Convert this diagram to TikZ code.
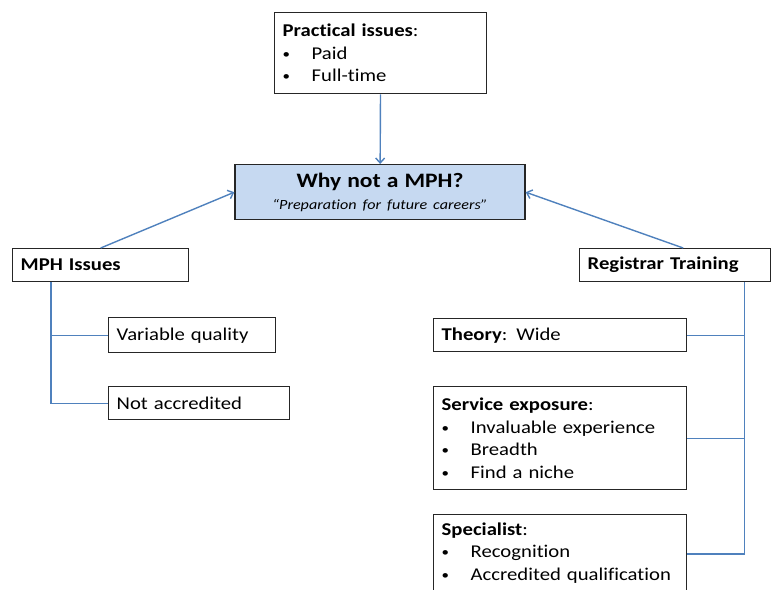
\documentclass[tikz,border=0pt]{standalone}
\usepackage{fontspec}
\setmainfont[FakeStretch=1.15,Ligatures=NoCommon]{Carlito}
\usepackage{tikz}
\usetikzlibrary{positioning,arrows.meta}
\definecolor{linkblue}{RGB}{79,129,189}
\definecolor{boxblue}{RGB}{198,217,241}
\tikzset{
    >={Straight Barb[length=5pt,width=9pt]},
    box/.style={
        rectangle,
        draw=black!85, line width=1.4pt,
        fill=white,
        inner xsep=8pt, inner ysep=3pt,
        align=left,
        anchor=north west,
        font={\fontsize{18}{22.5}\selectfont}
    },
    link/.style={draw=linkblue, line width=1.4pt},
}
\newcommand{\bitem}[1]{\makebox[29pt][l]{\raisebox{1pt}{\fontsize{13}{13}\selectfont\textbullet}}\mbox{#1}}

\begin{document}
\begin{tikzpicture}[x=1pt,y=-1pt]
    \useasboundingbox (0,0) rectangle (771,589);

    % centre and the three groups
    \node(why)[box, anchor=north, fill=boxblue, align=center, text width=274pt, minimum height=55pt]
        at (380,164) {{\fontsize{20.5}{22}\selectfont\bfseries Why not a MPH?}\\[-1pt]
        {\fontsize{14}{15}\selectfont\itshape ``Preparation for future careers''}};
    \node(practical)[box, text width=196pt, minimum height=81pt] at (274,12)
        {\textbf{Practical issues}:\\ \bitem{Paid}\\ \bitem{Full-time}};
    \node(mph)[box, text width=160pt, minimum height=33pt] at (12,248) {\textbf{MPH Issues}};
    \node(registrar)[box, text width=175pt, minimum height=33pt] at (579,248) {\textbf{Registrar Training}};

    % left branch
    \node(varq)[box, text width=151pt, minimum height=35pt] at (108,317) {Variable quality};
    \node(notacc)[box, text width=165pt, minimum height=33pt] at (108,386) {Not accredited};

    % right branch
    \node(theory)[box, text width=237pt, minimum height=33pt] at (433,318) {\textbf{Theory}: Wide};
    \node(service)[box, text width=237pt, minimum height=103pt] at (433,386)
        {\textbf{Service exposure}:\\ \bitem{Invaluable experience}\\ \bitem{Breadth}\\ \bitem{Find a niche}};
    \node(special)[box, text width=237pt, inner ysep=8pt] at (433,514)
        {\textbf{Specialist}:\\ \bitem{Recognition}\\ \bitem{Accredited qualification}\\ \mbox{}};

    \draw[link,->] (practical) to (why);
    \draw[link,->] (mph.north) to (why.west);
    \draw[link,->] ([xshift=8pt]registrar.north) to (why.east);
    \draw[link] ([xshift=39pt]mph.south west) |- (varq.west);
    \draw[link] ([xshift=39pt]mph.south west) |- (notacc.west);
    \draw[link] ([xshift=-27pt]registrar.south east) |- (theory.east);
    \draw[link] ([xshift=-27pt]registrar.south east) |- (service.east);
    \draw[link] ([xshift=-27pt]registrar.south east) |- ([yshift=-40pt]special.north east);
\end{tikzpicture}
\end{document}
